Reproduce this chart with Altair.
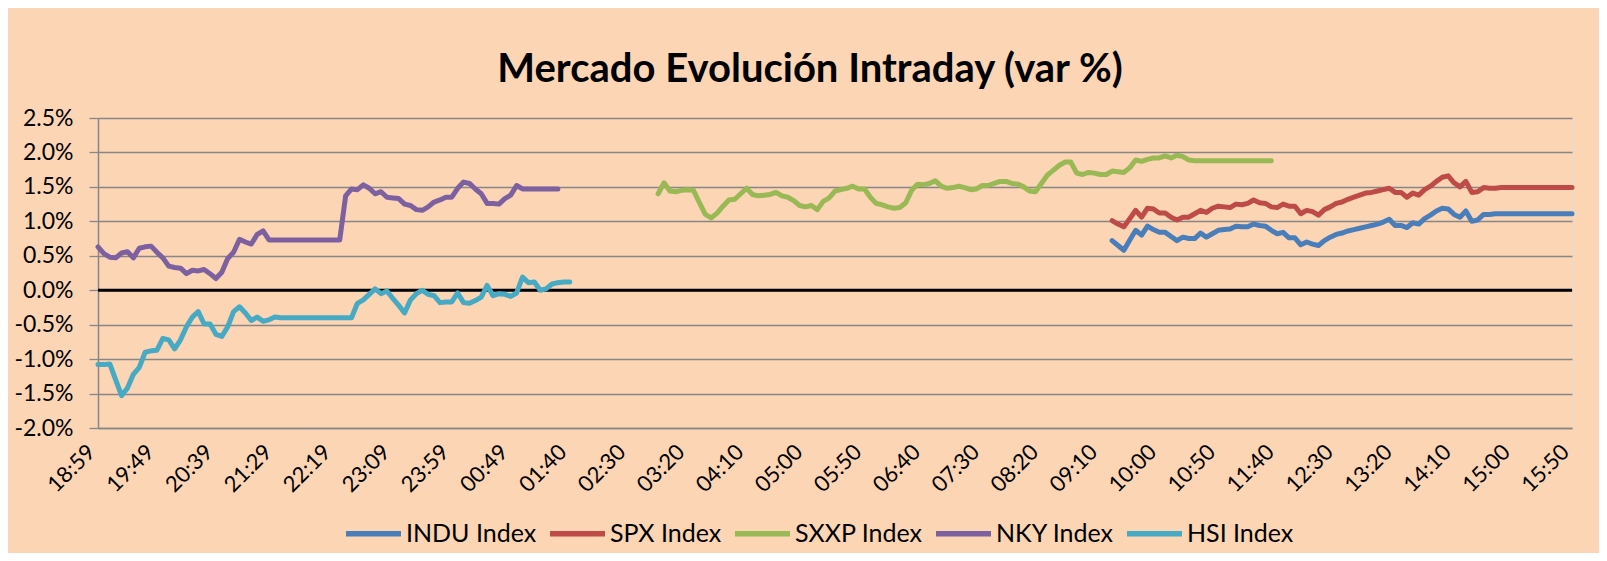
import altair as alt
import pandas as pd

# ---------------- data (values in %) ----------------
TIME_LABELS = ["18:59", "19:49", "20:39", "21:29", "22:19", "23:09", "23:59", "00:49",
               "01:40", "02:30", "03:20", "04:10", "05:00", "05:50", "06:40", "07:30",
               "08:20", "09:10", "10:00", "10:50", "11:40", "12:30", "13:20", "14:10",
               "15:00", "15:50"]

SERIES_NAMES = ["INDU Index", "SPX Index", "SXXP Index", "NKY Index", "HSI Index"]
SERIES_COLORS = ["#4A7EBB", "#BE4B48", "#98B954", "#7D60A0", "#46AAC5"]

NKY_START = 0
NKY = [0.63, 0.53, 0.48, 0.47, 0.54, 0.56, 0.47, 0.61, 0.63, 0.64,
       0.55, 0.47, 0.35, 0.33, 0.32, 0.24, 0.29, 0.28, 0.30, 0.24,
       0.17, 0.26, 0.46, 0.55, 0.74, 0.70, 0.67, 0.81, 0.86, 0.73,
       0.73, 0.73, 0.73, 0.73, 0.73, 0.73, 0.73, 0.73, 0.73, 0.73,
       0.73, 0.73, 1.37, 1.47, 1.46, 1.53, 1.48, 1.40, 1.43, 1.35,
       1.34, 1.33, 1.25, 1.23, 1.17, 1.16, 1.21, 1.28, 1.31, 1.35,
       1.35, 1.48, 1.57, 1.55, 1.47, 1.40, 1.26, 1.26, 1.25, 1.33,
       1.38, 1.52, 1.47, 1.47, 1.47, 1.47, 1.47, 1.47, 1.47]

HSI_START = 0
HSI = [-1.08, -1.08, -1.07, -1.30, -1.53, -1.42, -1.22, -1.12, -0.90, -0.88,
       -0.87, -0.70, -0.72, -0.85, -0.72, -0.53, -0.39, -0.31, -0.49, -0.49,
       -0.64, -0.67, -0.53, -0.31, -0.24, -0.33, -0.44, -0.39, -0.45, -0.43,
       -0.39, -0.40, -0.40, -0.40, -0.40, -0.40, -0.40, -0.40, -0.40, -0.40,
       -0.40, -0.40, -0.40, -0.40, -0.19, -0.14, -0.06, 0.02, -0.05, -0.01,
       -0.12, -0.22, -0.33, -0.14, -0.05, 0.00, -0.06, -0.08, -0.18, -0.17,
       -0.17, -0.04, -0.18, -0.19, -0.15, -0.10, 0.07, -0.08, -0.05, -0.06,
       -0.09, -0.04, 0.19, 0.11, 0.12, 0.00, 0.02, 0.09, 0.11, 0.12,
       0.12]

SXXP_START = 95
SXXP = [1.40, 1.56, 1.44, 1.43, 1.45, 1.46, 1.45, 1.27, 1.10, 1.05,
        1.12, 1.22, 1.31, 1.32, 1.40, 1.48, 1.39, 1.37, 1.38, 1.39,
        1.42, 1.37, 1.35, 1.30, 1.23, 1.21, 1.23, 1.17, 1.29, 1.34,
        1.44, 1.46, 1.48, 1.51, 1.47, 1.47, 1.35, 1.26, 1.24, 1.21,
        1.19, 1.20, 1.27, 1.45, 1.54, 1.53, 1.55, 1.59, 1.51, 1.48,
        1.49, 1.51, 1.49, 1.46, 1.47, 1.52, 1.52, 1.55, 1.58, 1.58,
        1.55, 1.54, 1.50, 1.44, 1.43, 1.55, 1.67, 1.74, 1.81, 1.86,
        1.86, 1.70, 1.68, 1.71, 1.70, 1.68, 1.68, 1.73, 1.72, 1.71,
        1.78, 1.89, 1.87, 1.90, 1.92, 1.92, 1.95, 1.92, 1.96, 1.94,
        1.89, 1.88, 1.88, 1.88, 1.88, 1.88, 1.88, 1.88, 1.88, 1.88,
        1.88, 1.88, 1.88, 1.88, 1.88]

SPX_START = 172
SPX = [1.01, 0.96, 0.92, 1.04, 1.16, 1.06, 1.19, 1.18, 1.12, 1.12,
       1.06, 1.02, 1.06, 1.06, 1.11, 1.16, 1.13, 1.19, 1.22, 1.21,
       1.20, 1.25, 1.24, 1.26, 1.31, 1.27, 1.26, 1.21, 1.20, 1.25,
       1.22, 1.22, 1.11, 1.16, 1.14, 1.09, 1.17, 1.21, 1.26, 1.28,
       1.32, 1.35, 1.38, 1.41, 1.42, 1.44, 1.46, 1.48, 1.42, 1.42,
       1.35, 1.41, 1.38, 1.46, 1.51, 1.58, 1.64, 1.66, 1.56, 1.50,
       1.58, 1.42, 1.43, 1.49, 1.48, 1.48, 1.49, 1.49, 1.49, 1.49,
       1.49, 1.49, 1.49, 1.49, 1.49, 1.49, 1.49, 1.49, 1.49]

INDU_START = 172
INDU = [0.72, 0.65, 0.58, 0.73, 0.87, 0.80, 0.93, 0.88, 0.84, 0.84,
        0.78, 0.72, 0.77, 0.75, 0.75, 0.83, 0.77, 0.82, 0.87, 0.88,
        0.89, 0.93, 0.92, 0.92, 0.96, 0.94, 0.93, 0.87, 0.82, 0.84,
        0.76, 0.76, 0.66, 0.70, 0.67, 0.65, 0.72, 0.77, 0.81, 0.83,
        0.86, 0.88, 0.90, 0.92, 0.94, 0.96, 0.99, 1.03, 0.94, 0.94,
        0.91, 0.98, 0.96, 1.04, 1.09, 1.15, 1.19, 1.18, 1.10, 1.06,
        1.15, 1.00, 1.02, 1.10, 1.10, 1.11, 1.11, 1.11, 1.11, 1.11,
        1.11, 1.11, 1.11, 1.11, 1.11, 1.11, 1.11, 1.11, 1.11]

Y_TICKS = [-2.0, -1.5, -1.0, -0.5, 0.0, 0.5, 1.0, 1.5, 2.0, 2.5]
ZERO_LINE = [0.0]

# ---------------- build table ----------------
rows = []
for name, start, vals in [("INDU Index", INDU_START, INDU), ("SPX Index", SPX_START, SPX),
                          ("SXXP Index", SXXP_START, SXXP), ("NKY Index", NKY_START, NKY),
                          ("HSI Index", HSI_START, HSI)]:
    for k, v in enumerate(vals):
        rows.append({"idx": start + k, "value": v, "series": name})
df = pd.DataFrame(rows)

n_last = (len(TIME_LABELS) - 1) * 10
tick_vals = [i * 10 for i in range(len(TIME_LABELS))]
label_arr = "[" + ",".join("'" + t + "'" for t in TIME_LABELS) + "]"

FONT = "Lato"
GRID = "#878787"

y_axis = alt.Axis(values=Y_TICKS,
                  labelExpr="(datum.value < 0 ? '-' : '') + format(abs(datum.value), '.1f') + '%'",
                  labelFontSize=23, labelFont=FONT, labelColor="black", labelOverlap=False,
                  labelPadding=16, tickSize=9, tickColor=GRID, tickWidth=1.3,
                  grid=True, gridColor=GRID, gridWidth=1.3,
                  domainColor=GRID, domainWidth=1.5, title=None)
y_scale = alt.Scale(domain=[-2.0, 2.5], nice=False, zero=False)

x_enc = alt.X("idx:Q",
              scale=alt.Scale(domain=[0, n_last], nice=False, zero=False),
              axis=alt.Axis(values=tick_vals, labelExpr=label_arr + "[round(datum.value/10)]",
                            labelAngle=-45, labelAlign="right", labelBaseline="middle",
                            labelFontSize=22, labelFont=FONT, labelColor="black",
                            labelPadding=20, labelOffset=-7, tickSize=0, grid=False,
                            domainColor=GRID, domainWidth=1.5, title=None,
                            labelOverlap=False))

zero = alt.Chart(pd.DataFrame({"value": ZERO_LINE})).mark_rule(
    color="black", strokeWidth=3).encode(
    y=alt.Y("value:Q", scale=y_scale, axis=y_axis))

lines = alt.Chart(df).mark_line(strokeWidth=5, strokeCap="round", strokeJoin="round").encode(
    x=x_enc,
    y=alt.Y("value:Q", scale=y_scale, axis=y_axis),
    color=alt.Color("series:N",
                    scale=alt.Scale(domain=SERIES_NAMES, range=SERIES_COLORS),
                    sort=SERIES_NAMES, title=None,
                    legend=alt.Legend(orient="none", legendX=245, legendY=385,
                                      direction="horizontal", symbolType="stroke",
                                      symbolSize=3025, symbolStrokeWidth=5.5,
                                      labelFontSize=25, labelFont=FONT, labelColor="black",
                                      labelOffset=2, columnPadding=2, labelLimit=400)),
    detail="series:N")

chart = alt.layer(zero, lines).properties(
    width=1474, height=310,
    title=alt.TitleParams(text="Mercado Evolución Intraday (var %)", fontSize=40, font=FONT,
                          fontWeight="bold", color="black", anchor="middle", dx=-25, offset=17),
    autosize=alt.AutoSizeParams(type="none"),
    padding={"left": 90, "top": 110, "right": 27, "bottom": 125},
    background="#FCD5B5",
).configure_view(fill="#FDEADA", stroke=None).configure(font=FONT)

chart.save("out.html", embed_options={"renderer": "svg", "actions": False})
